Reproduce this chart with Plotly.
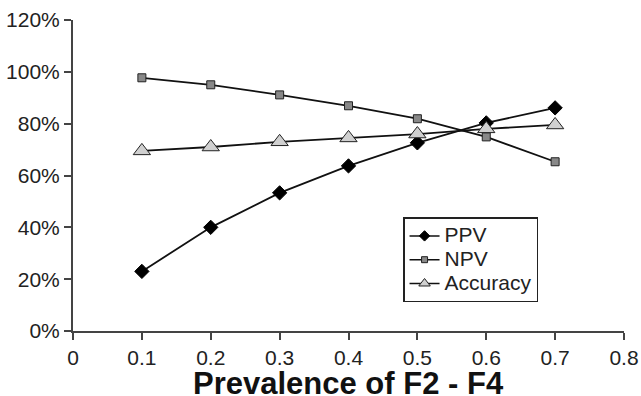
import plotly.graph_objects as go

prevalence = [0.1, 0.2, 0.3, 0.4, 0.5, 0.6, 0.7]
ppv = [23, 40, 53.3, 63.7, 72.6, 80.3, 86.1]
npv = [97.7, 95, 91.1, 86.9, 81.9, 74.9, 65.3]
accuracy = [69.5, 71, 73, 74.5, 76, 78, 79.5]
series_names = ["PPV", "NPV", "Accuracy"]

y_ticks = [0, 20, 40, 60, 80, 100, 120]
y_tick_labels = [f"{v}%" for v in y_ticks]
x_ticks = [0, 0.1, 0.2, 0.3, 0.4, 0.5, 0.6, 0.7, 0.8]
x_tick_labels = ["0", "0.1", "0.2", "0.3", "0.4", "0.5", "0.6", "0.7", "0.8"]
x_title = "Prevalence of F2 - F4"

styles = [
    dict(symbol="diamond", size=11, color="black", line=dict(color="black", width=1)),
    dict(symbol="square", size=8, color="#888888", line=dict(color="#222222", width=1)),
    dict(symbol="triangle-up", size=15, color="#d0d0d0", line=dict(color="#222222", width=1)),
]
legend_sizes = [8, 6, 10]

fig = go.Figure()
for name, vals, st in zip(series_names, [ppv, npv, accuracy], styles):
    fig.add_trace(go.Scatter(x=prevalence, y=vals, name=name, mode="lines+markers",
                             line=dict(color="#111111", width=1.8),
                             marker=st, showlegend=False))
# legend entries with smaller symbols
for name, st, ls in zip(series_names, styles, legend_sizes):
    m = dict(st)
    m["size"] = ls
    fig.add_trace(go.Scatter(x=[None], y=[None], mode="lines+markers",
                             name=f'<span style="font-size:21px">{name}</span>',
                             line=dict(color="#111111", width=1.5), marker=m,
                             showlegend=True, hoverinfo="skip"))

font_family = "Liberation Sans, Arial, sans-serif"
fig.update_layout(
    width=641, height=396,
    margin=dict(l=73, r=17, t=20, b=65),
    paper_bgcolor="white", plot_bgcolor="white",
    font=dict(family=font_family, color="#222222", size=20),
    showlegend=True,
    legend=dict(x=0.599, y=0.365, xanchor="left", yanchor="top",
                bordercolor="#222222", borderwidth=1.5, bgcolor="white",
                font=dict(size=16), tracegroupgap=0, itemwidth=30,
                itemsizing="trace"),
    xaxis=dict(range=[0, 0.8], tickvals=x_ticks, ticktext=x_tick_labels,
               showgrid=False, zeroline=False, showline=True, linecolor="#444444",
               linewidth=2, ticks="outside", ticklen=7, tickwidth=2, tickcolor="#444444",
               tickfont=dict(size=21), automargin=False),
    yaxis=dict(range=[0, 120], tickvals=y_ticks, ticktext=y_tick_labels,
               showgrid=False, zeroline=False, showline=True, linecolor="#444444",
               linewidth=2, ticks="outside", ticklen=7, tickwidth=2, tickcolor="#444444",
               tickfont=dict(size=21), automargin=False),
    annotations=[dict(text=f"<b>{x_title}</b>", xref="paper", yref="paper",
                      x=0.5, y=-0.17, xanchor="center", yanchor="middle",
                      borderpad=0, showarrow=False, font=dict(size=31, color="#111111"))],
)

fig.write_html("out.html")
